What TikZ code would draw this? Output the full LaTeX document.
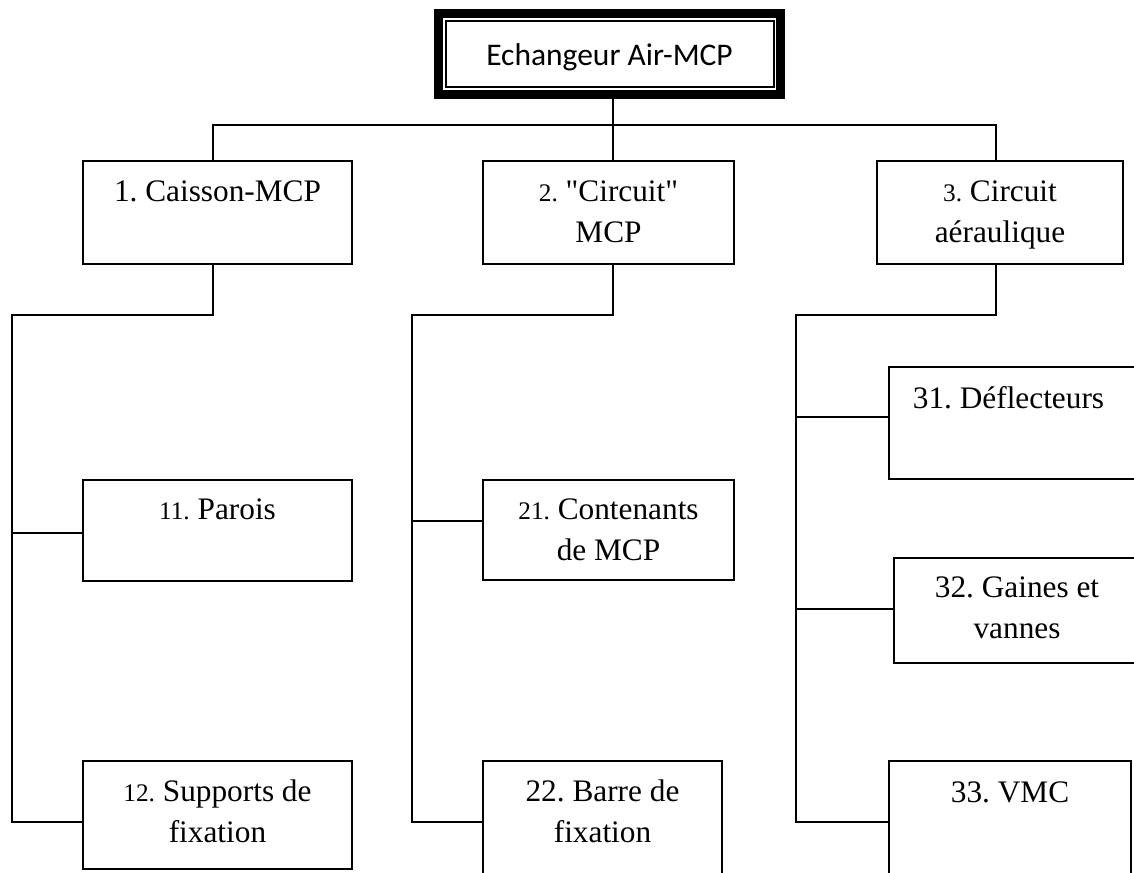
\documentclass[tikz,border=0pt]{standalone}
\usepackage{fontspec}
\setmainfont{Liberation Serif}
\newfontfamily\carlitofont{Carlito}
\newcommand\sn[1]{{\fontsize{25.3}{41}\selectfont #1}}
\frenchspacing
\begin{document}
\begin{tikzpicture}[x=1pt,y=-1pt, line width=1.8pt,
  box/.style={draw, rectangle, inner sep=0pt, outer sep=0pt, anchor=north west},
  lbl/.style={anchor=north, inner sep=0pt, align=center, font=\fontsize{31.3}{41}\selectfont\frenchspacing}]
\useasboundingbox (0,0) rectangle (1134,872);
\clip (0,0) rectangle (1134,872);

% top box
\node[draw, line width=9pt, inner sep=0pt, outer sep=0pt, minimum width=342pt, minimum height=81pt,
      text height=24pt, text depth=0pt, font=\carlitofont\fontsize{31.5}{38}\selectfont]
      (top) at (609.5,54) {Echangeur Air-MCP};
\draw[line width=2pt] ([shift={(7.5,8)}]top.north west) rectangle ([shift={(-6.5,-7.5)}]top.south east);

% level 1
\node[box, minimum width=269pt, minimum height=103pt] (b1) at (83,161) {};
\node[box, minimum width=251pt, minimum height=103pt] (b2) at (483,161) {};
\node[box, minimum width=246pt, minimum height=103pt] (b3) at (877,161) {};

% level 2
\node[box, minimum width=269pt, minimum height=101pt] (b11) at (83,480) {};
\node[box, minimum width=269pt, minimum height=108pt] (b12) at (83,761) {};
\node[box, minimum width=251pt, minimum height=100pt] (b21) at (483,480) {};
\node[box, minimum width=239pt, minimum height=140pt] (b22) at (483,761) {};
\node[box, minimum width=260pt, minimum height=112pt] (b31) at (889,367) {};
\node[box, minimum width=260pt, minimum height=105pt] (b32) at (894,558) {};
\node[box, minimum width=242pt, minimum height=140pt] (b33) at (889,761) {};

% labels
\node[lbl] (t1) at ([yshift=-11.3pt]b1.north) {\strut 1. Caisson-MCP};
\node[lbl] (t2) at ([yshift=-11.3pt]b2.north) {\strut\sn{2.} \textquotedbl Circuit\textquotedbl\\MCP};
\node[lbl] (t3) at ([yshift=-11.3pt]b3.north) {\strut\sn{3.} Circuit\\aéraulique};
\node[lbl] (t11) at ([yshift=-10.3pt]b11.north) {\strut\sn{11.} Parois};
\node[lbl] (t12) at ([yshift=-11.3pt]b12.north) {\strut\sn{12.} Supports de\\fixation};
\node[lbl] (t21) at ([yshift=-10.3pt]b21.north) {\strut\sn{21.} Contenants\\de MCP};
\node[lbl] (t22) at ([yshift=-11.3pt]b22.north) {\strut 22. Barre de\\fixation};
\node[lbl] (t31) at ([xshift=119.5pt,yshift=-12.3pt]b31.north west) {\strut 31. Déflecteurs};
\node[lbl] (t32) at ([xshift=123pt,yshift=-10.3pt]b32.north west) {\strut 32. Gaines et\\vannes};
\node[lbl] (t33) at ([yshift=-12.3pt]b33.north) {\strut 33. VMC};

% connectors
\coordinate (c1) at (213,125);
\coordinate (c2) at (613,125);
\coordinate (c3) at (996,125);
\draw (top.south -| c2) -- (b2.north -| c2);
\draw (b1.north -| c1) |- (c3) -- (b3.north -| c3);

\coordinate (s1) at (12,822);
\coordinate (s2) at (412,822);
\coordinate (s3) at (796,822);
\draw (b1.south -| c1) -- ++(0,51) -| (s1) -- (b12.west |- s1);
\draw (b2.south -| c2) -- ++(0,51) -| (s2) -- (b22.west |- s2);
\draw (b3.south -| c3) -- ++(0,51) -| (s3) -- (b33.west |- s3);

\coordinate (k11) at (12,533);
\coordinate (k21) at (412,521);
\coordinate (k31) at (796,417);
\coordinate (k32) at (796,609);
\draw (k11) -- (b11.west |- k11);
\draw (k21) -- (b21.west |- k21);
\draw (k31) -- (b31.west |- k31);
\draw (k32) -- (b32.west |- k32);
\end{tikzpicture}
\end{document}
